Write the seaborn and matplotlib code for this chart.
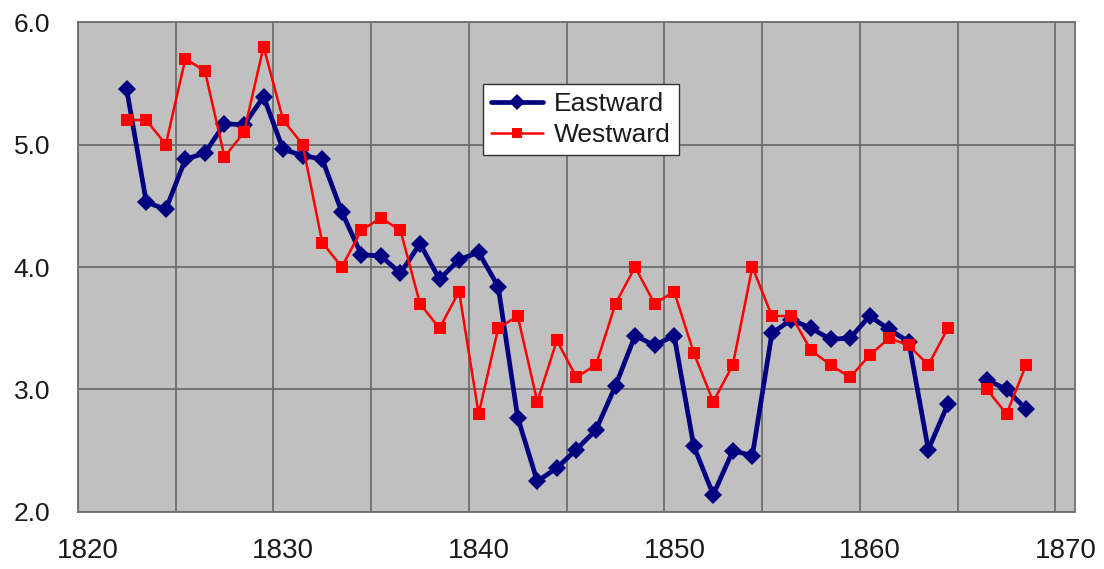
import numpy as np
import pandas as pd
import seaborn as sns
import matplotlib.pyplot as plt
from matplotlib.lines import Line2D
from matplotlib.transforms import ScaledTranslation

# season mid-points (no data for 1865)
years = [1822.5, 1823.5, 1824.5, 1825.5, 1826.5, 1827.5, 1828.5, 1829.5,
         1830.5, 1831.5, 1832.5, 1833.5, 1834.5, 1835.5, 1836.5, 1837.5,
         1838.5, 1839.5, 1840.5, 1841.5, 1842.5, 1843.5, 1844.5, 1845.5,
         1846.5, 1847.5, 1848.5, 1849.5, 1850.5, 1851.5, 1852.5, 1853.5,
         1854.5, 1855.5, 1856.5, 1857.5, 1858.5, 1859.5, 1860.5, 1861.5,
         1862.5, 1863.5, 1864.5, 1866.5, 1867.5, 1868.5]

eastward = [5.45, 4.53, 4.47, 4.88, 4.93, 5.17, 5.16, 5.39,
            4.96, 4.91, 4.88, 4.45, 4.10, 4.09, 3.95, 4.19,
            3.90, 4.06, 4.12, 3.84, 2.77, 2.25, 2.36, 2.51,
            2.67, 3.03, 3.44, 3.36, 3.44, 2.54, 2.14, 2.50,
            2.46, 3.46, 3.57, 3.50, 3.41, 3.42, 3.60, 3.49,
            3.39, 2.51, 2.88, 3.08, 3.00, 2.84]

westward = [5.2, 5.2, 5.0, 5.7, 5.6, 4.9, 5.1, 5.8,
            5.2, 5.0, 4.2, 4.0, 4.3, 4.4, 4.3, 3.7,
            3.5, 3.8, 2.8, 3.5, 3.6, 2.9, 3.4, 3.1,
            3.2, 3.7, 4.0, 3.7, 3.8, 3.3, 2.9, 3.2,
            4.0, 3.6, 3.6, 3.32, 3.2, 3.1, 3.28, 3.42,
            3.36, 3.2, 3.5, 3.0, 2.8, 3.2]

df = pd.DataFrame({"year": years, "Eastward": eastward, "Westward": westward})
df = df.melt(id_vars="year", var_name="direction", value_name="speed")
# the 1865 gap splits each series in two runs
df["segment"] = np.where(df["year"] < 1865, 0, 1)

styles = {
    "Eastward": dict(color="#000080", marker="D", lw=3.4, ms=9.5),
    "Westward": dict(color="#ff0000", marker="s", lw=1.8, ms=9),
}

sns.set_style("white")
plt.rcParams["font.family"] = ["Liberation Sans", "DejaVu Sans"]

fig = plt.figure(figsize=(11.04, 5.69), dpi=100)
ax = fig.add_axes([0.0705, 0.1002, 0.9032, 0.8611])
ax.set_facecolor("#c0c0c0")

for name in ["Eastward", "Westward"]:
    st = styles[name]
    sns.lineplot(data=df[df["direction"] == name], x="year", y="speed",
                 units="segment", estimator=None, sort=True, ax=ax,
                 color=st["color"], linewidth=st["lw"], marker=st["marker"],
                 markersize=st["ms"], markeredgewidth=0,
                 markerfacecolor=st["color"], legend=False, zorder=3)

ax.set_xlim(1820, 1871)
ax.set_ylim(2.0, 6.0)
ax.set_xticks(np.arange(1820, 1871, 5))
ax.set_xticklabels([str(y) if y % 10 == 0 else "" for y in range(1820, 1871, 5)])
ax.set_yticks([2.0, 3.0, 4.0, 5.0, 6.0])
ax.set_yticklabels(["2.0", "3.0", "4.0", "5.0", "6.0"])
ax.grid(True, color="#6e6e6e", linewidth=1.3)
ax.set_axisbelow(True)
for sp in ax.spines.values():
    sp.set_color("#6e6e6e")
    sp.set_linewidth(1.3)
ax.tick_params(axis="both", direction="out", length=8, width=1.3,
               color="#6e6e6e", labelcolor="#1a1a1a")
ax.tick_params(axis="x", labelsize=20, pad=11)
ax.tick_params(axis="y", labelsize=19, pad=12)
offset = ScaledTranslation(10 / 100, 0, fig.dpi_scale_trans)
for lbl in ax.get_xticklabels():
    lbl.set_transform(lbl.get_transform() + offset)
ax.set_xlabel("")
ax.set_ylabel("")

handles = [Line2D([], [], color=styles[n]["color"], lw=styles[n]["lw"],
                  marker=styles[n]["marker"], ms=styles[n]["ms"] - 1.5,
                  markeredgewidth=0) for n in ["Eastward", "Westward"]]
leg = ax.legend(handles, ["Eastward", "Westward"], loc="upper left",
                bbox_to_anchor=(0.406, 0.873), fontsize=19, frameon=True,
                fancybox=False, framealpha=1, edgecolor="#333333",
                handlelength=2.0, handletextpad=0.4, borderpad=0.3,
                labelspacing=0.25, borderaxespad=0, labelcolor="#1a1a1a")
leg.get_frame().set_linewidth(1.0)

fig.savefig("out.png", dpi=100)
